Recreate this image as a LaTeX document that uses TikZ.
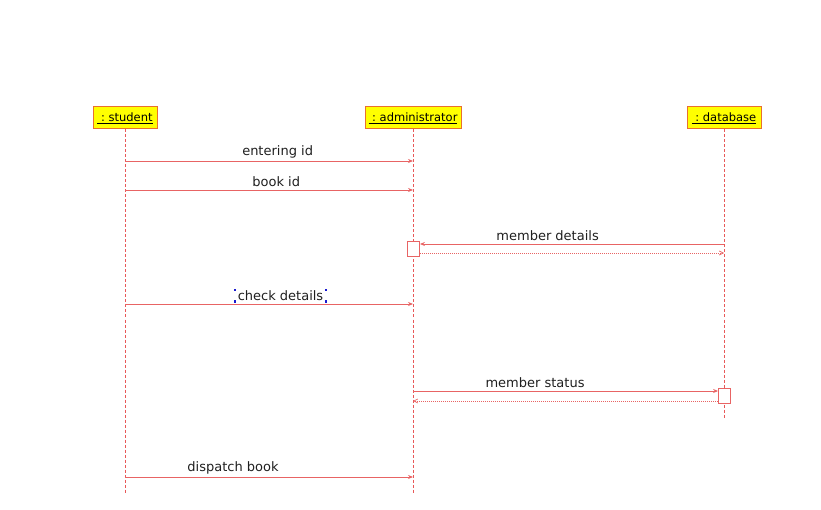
\documentclass[tikz,border=0pt]{standalone}
\usepackage{fontspec}
\setmainfont{DejaVu Sans}
\usetikzlibrary{arrows.meta}
\definecolor{msgred}{HTML}{E86464}
\definecolor{lifered}{HTML}{E85858}
\definecolor{objfill}{HTML}{FFFF00}
\definecolor{objedge}{HTML}{E8702E}
\definecolor{handle}{HTML}{1A1AD0}
\tikzset{
  x=1pt, y=-1pt,
  objbox/.style={draw=objedge, fill=objfill, line width=1pt, minimum height=22pt,
    inner sep=0pt, font=\fontsize{11.5}{12}\selectfont},
  lifeline/.style={draw=lifered, dash pattern=on 3pt off 2pt, line width=1pt, xshift=0.5pt},
  callmsg/.style={draw=msgred, line width=0.8pt, -{Stealth[length=5pt,width=4pt]}},
  retmsg/.style={draw=msgred, line width=0.7pt, dash pattern=on 1pt off 1pt, -{Straight Barb[length=4pt,width=4pt]}},
  actbox/.style={draw=msgred, fill=white, line width=0.8pt, minimum width=12pt, minimum height=15pt, inner sep=0pt},
  msglabel/.style={font=\fontsize{13}{15}\selectfont, text=black!88, inner sep=1pt},
  grip/.style={fill=handle, minimum size=2.2pt, inner sep=0pt}
}
\begin{document}
\begin{tikzpicture}
\useasboundingbox (0,0) rectangle (821,510);

% object heads
\node[objbox, minimum width=64pt] (student) at (125,118) {\underline{\ :\ student}};
\node[objbox, minimum width=96pt] (admin) at (413,118) {\underline{\ :\ administrator}};
\node[objbox, minimum width=74pt] (db) at (724,118) {\underline{\ :\ database}};

% lifeline ends
\coordinate (studentEnd) at (125,494);
\coordinate (adminEnd) at (413,494);
\coordinate (dbEnd) at (724,418);
\draw[lifeline] (student.south) -- (studentEnd);
\draw[lifeline] (admin.south) -- (adminEnd);
\draw[lifeline] (db.south) -- (dbEnd);

% activation boxes
\node[actbox, anchor=north] (actA) at (413.5,241) {};
\node[actbox, anchor=north] (actD) at (724.5,388) {};

% message anchor points on the lifelines
\coordinate (s1) at (125,161); \coordinate (a1) at (413,161);
\coordinate (s2) at (125,190); \coordinate (a2) at (413,190);
\coordinate (d3) at (724,244);
\coordinate (d3r) at (724,253);
\coordinate (s4) at (125,304); \coordinate (a4) at (413,304);
\coordinate (a5) at (413,391);
\coordinate (a5r) at (413,401);
\coordinate (s6) at (125,477); \coordinate (a6) at (413,477);

% messages
\draw[callmsg] (s1) -- (a1) node[msglabel, pos=0.53, above=1.5pt] {entering id};
\draw[callmsg] (s2) -- (a2) node[msglabel, pos=0.525, above=1.5pt] {book id};
\draw[callmsg] (d3) -- (actA.east |- d3) node[msglabel, pos=0.58, above=1.5pt] {member details};
\draw[retmsg] (actA.east |- d3r) -- (d3r);
\draw[callmsg] (s4) -- (a4) node[msglabel, pos=0.54, above=2.5pt, inner xsep=2pt, inner ysep=0.5pt] (chk) {check details};
\draw[callmsg] (a5) -- (actD.west |- a5) node[msglabel, pos=0.40, above=1.5pt] {member status};
\draw[retmsg] (actD.west |- a5r) -- (a5r);
\draw[callmsg] (s6) -- (a6) node[msglabel, pos=0.375, above=1.5pt] {dispatch book};

% selection grips around the label
\node[grip] at (chk.north west) {};
\node[grip] at (chk.north east) {};
\node[grip] at (chk.south west) {};
\node[grip] at (chk.south east) {};
\end{tikzpicture}
\end{document}
